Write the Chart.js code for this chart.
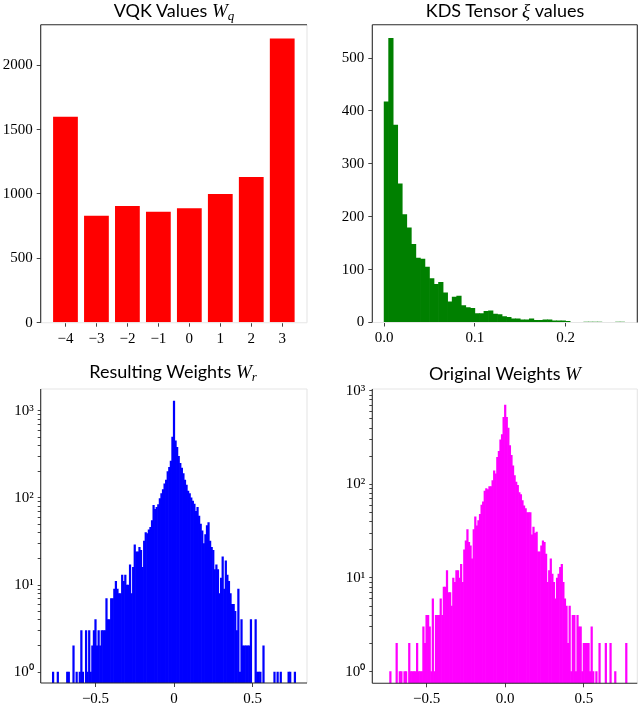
<!DOCTYPE html>
<html><head><meta charset="utf-8">
<script src="https://cdn.jsdelivr.net/npm/chart.js@4"></script>
<style>
html,body{margin:0;padding:0;background:#fff;}
#wrap{position:relative;width:640px;height:707px;overflow:hidden;background:#fff;}
#wrap canvas{position:absolute;}
.t{position:absolute;width:300px;text-align:center;font-family:Lato,"Open Sans",sans-serif;font-size:18px;color:#000;white-space:nowrap;line-height:22px;z-index:2;}
.m{font-family:"Liberation Serif",serif;font-style:italic;font-size:19px;}
.m sub{font-size:13px;vertical-align:-3px;line-height:0;}
</style></head>
<body>
<div id="wrap">
  <div class="t" style="left:24px;top:-1px;">VQK Values <span class="m">W<sub>q</sub></span></div>
  <div class="t" style="left:355px;top:-1px;">KDS Tensor <span class="m">ξ</span> values</div>
  <div class="t" style="left:23px;top:360px;">Resulting Weights <span class="m">W<sub>r</sub></span></div>
  <div class="t" style="left:355px;top:362px;">Original Weights <span class="m">W</span></div>
  <canvas id="c1" width="320" height="350" style="left:0;top:0;"></canvas>
  <canvas id="c2" width="320" height="350" style="left:320px;top:0;"></canvas>
  <canvas id="c3" width="320" height="357" style="left:0;top:350px;"></canvas>
  <canvas id="c4" width="320" height="357" style="left:320px;top:350px;"></canvas>
</div>
<script>
// ---------- data ----------
const vqkLevels = [-4, -3, -2, -1, 0, 1, 2, 3];
const vqkCounts = [1600, 830, 906, 862, 890, 999, 1131, 2207];
const vqkYTicks = [0, 500, 1000, 1500, 2000];

const kdsBinWidth = 0.005;
const kdsCounts = [417, 537, 373, 262, 204, 179, 148, 122, 120, 105,
                   83, 72, 76, 56, 39, 48, 50, 32, 28, 27,
                   17, 17, 21, 22, 16, 15, 11, 10, 7, 7,
                   5, 5, 7, 4, 4, 5, 5, 3, 3, 3,
                   2, 0, 0, 0, 1, 1, 1, 1, 0, 0,
                   0, 1, 1];
const kdsXTicks = [0, 0.1, 0.2];
const kdsYTicks = [0, 100, 200, 300, 400, 500];

const wFirstBinCenter = -0.77;
const wBinWidth = 0.01;
const resultingCounts = [
  1, 0, 0, 1, 0, 0, 0, 0, 0, 1,
  1, 0, 0, 2, 0, 1, 0, 1, 3, 1,
  0, 3, 1, 3, 1, 2, 3, 4, 2, 3,
  2, 3, 3, 3, 7, 4, 4, 7, 7, 9,
  11, 9, 8, 8, 13, 11, 13, 10, 10, 17,
  8, 16, 29, 24, 24, 27, 25, 16, 32, 40,
  39, 43, 46, 55, 82, 74, 78, 84, 98, 112,
  125, 145, 160, 200, 225, 265, 500, 1290,
  453, 380, 300, 250, 220, 190, 160, 140, 120, 112,
  100, 92, 85, 70, 78, 62, 50, 42, 30, 38,
  48, 52, 32, 27, 25, 15, 17, 15, 8, 12,
  21, 9, 19, 13, 11, 8, 6, 6, 5, 3,
  9, 1, 4, 2, 2, 2, 2, 2, 4, 0,
  0, 4, 1, 1, 1, 0, 2, 0, 0, 0,
  0, 0, 0, 1, 0, 1, 0, 1, 0, 0,
  0, 0, 1, 1, 0, 0, 1];
const originalCounts = [
  0, 0, 0, 0, 1, 0, 0, 0, 2, 0,
  1, 1, 0, 1, 1, 0, 2, 1, 1, 1,
  1, 2, 1, 1, 1, 3, 2, 4, 4, 3,
  1, 6, 1, 4, 4, 4, 6, 4, 8, 8,
  12, 7, 7, 5, 10, 9, 12, 12, 10, 14,
  9, 20, 25, 33, 24, 22, 16, 33, 45, 36,
  41, 48, 60, 65, 85, 90, 88, 95, 95, 110,
  140, 130, 195, 225, 300, 340, 520, 702,
  520, 400, 260, 205, 158, 124, 106, 98, 82, 78,
  67, 59, 55, 50, 50, 50, 29, 35, 30, 31,
  19, 19, 22, 25, 24, 18, 9, 12, 16, 11,
  9, 6, 10, 11, 13, 14, 9, 6, 5, 2,
  5, 1, 4, 4, 1, 4, 3, 3, 1, 2,
  2, 2, 2, 1, 3, 1, 0, 1, 0, 2,
  0, 0, 0, 2, 0, 0, 2, 0, 0, 1,
  0, 0, 0, 0, 0, 0, 2];
const wXTicks = [-0.5, 0, 0.5];
const logMajorTicks = [1, 10, 100, 1000];
const logMinorMultipliers = [2, 3, 4, 5, 6, 7, 8, 9];
const logLabels = {1: '10\u2070', 10: '10\u00b9', 100: '10\u00b2', 1000: '10\u00b3'};

// ---------- helpers ----------
const DARK = '#2a2a2a', LIGHT = '#e6e6e6';
const tickFont = {family: '"Liberation Serif", serif', size: 15};
const minus = v => (v < 0 ? '\u2212' : '') + Math.abs(v);

const spines = {
  id: 'spines',
  afterDatasetsDraw(chart, args, o) {
    const {ctx, chartArea: a} = chart;
    const sides = [
      ['top', a.left, a.top, a.right, a.top],
      ['bottom', a.left, a.bottom, a.right, a.bottom],
      ['right', a.right, a.top, a.right, a.bottom],
      ['left', a.left, a.top, a.left, a.bottom]
    ];
    ctx.save();
    ctx.lineWidth = 1.1;
    [LIGHT, DARK].forEach(col => {
      sides.forEach(([k, x1, y1, x2, y2]) => {
        if (o[k] !== col) return;
        ctx.strokeStyle = col;
        ctx.beginPath(); ctx.moveTo(x1, y1); ctx.lineTo(x2, y2); ctx.stroke();
      });
    });
    ctx.restore();
  }
};

function xAxis(min, max, ticks, fmt, height) {
  return {
    type: 'linear', min, max, offset: false,
    afterBuildTicks: s => { s.ticks = ticks.map(v => ({value: v})); },
    afterFit: s => { s.height = height; },
    ticks: {callback: v => fmt(v), font: tickFont, color: '#000', padding: 3, maxRotation: 0, autoSkip: false},
    grid: {display: true, offset: false, drawOnChartArea: false, drawTicks: true, tickLength: 4, color: '#444'},
    border: {display: false}
  };
}
function yLinear(min, max, ticks, width) {
  return {
    type: 'linear', min, max,
    afterBuildTicks: s => { s.ticks = ticks.map(v => ({value: v})); },
    afterFit: s => { s.width = width; },
    ticks: {callback: v => String(v), font: tickFont, color: '#000', padding: 4, autoSkip: false},
    grid: {display: true, drawOnChartArea: false, drawTicks: true, tickLength: 4, color: '#444'},
    border: {display: false}
  };
}
function yLog(min, max, width) {
  return {
    type: 'logarithmic', min, max,
    afterBuildTicks: s => {
      const t = [];
      logMajorTicks.forEach(m => {
        t.push({value: m, major: true});
        logMinorMultipliers.forEach(k => t.push({value: m * k}));
      });
      s.ticks = t.filter(x => x.value >= min && x.value <= max);
    },
    afterFit: s => { s.width = width; },
    ticks: {callback: v => logLabels[v] || '', font: tickFont, color: '#000', padding: 4, autoSkip: false, major: {enabled: false}},
    grid: {display: true, drawOnChartArea: false, drawTicks: true, tickLength: 3, color: '#444'},
    border: {display: false}
  };
}
function baseOptions(pad, scales, sp) {
  return {
    responsive: false, animation: false, events: [],
    layout: {padding: pad},
    plugins: {legend: {display: false}, tooltip: {enabled: false}, title: {display: false}, spines: sp},
    scales
  };
}
function histPoints(first, width, counts) {
  return counts.map((c, i) => ({x: first + width * i, y: c > 0 ? c : null}));
}

// ---------- chart 1: VQK values ----------
new Chart(document.getElementById('c1'), {
  type: 'bar',
  data: {datasets: [{
    data: vqkLevels.map((x, i) => ({x, y: vqkCounts[i]})),
    backgroundColor: '#ff0000', borderWidth: 0,
    barPercentage: 0.8, categoryPercentage: 1.0
  }]},
  options: baseOptions({top: 24.7, right: 13, left: 0, bottom: 0}, {
    x: xAxis(-4.8, 3.8, vqkLevels, v => minus(v), 27.3),
    y: yLinear(0, 2315, vqkYTicks, 40.7)
  }, {top: DARK, left: DARK, bottom: LIGHT, right: LIGHT}),
  plugins: [spines]
});

// ---------- chart 2: KDS tensor ----------
new Chart(document.getElementById('c2'), {
  type: 'bar',
  data: {datasets: [{
    data: histPoints(kdsBinWidth / 2, kdsBinWidth, kdsCounts),
    backgroundColor: '#008000', borderWidth: 0,
    barPercentage: 1.0, categoryPercentage: 1.0
  }]},
  options: baseOptions({top: 24.7, right: 2.7, left: 0, bottom: 0}, {
    x: xAxis(-0.013, 0.279, kdsXTicks, v => v.toFixed(1), 27.5),
    y: yLinear(0, 563, kdsYTicks, 52.3)
  }, {top: DARK, left: DARK, bottom: LIGHT, right: DARK}),
  plugins: [spines]
});

// ---------- chart 3: resulting weights ----------
new Chart(document.getElementById('c3'), {
  type: 'bar',
  data: {datasets: [{
    data: histPoints(wFirstBinCenter, wBinWidth, resultingCounts),
    backgroundColor: '#0000ff', borderWidth: 0,
    barPercentage: 1.0, categoryPercentage: 1.0
  }]},
  options: baseOptions({top: 39, right: 13, left: 0, bottom: 0}, {
    x: xAxis(-0.849, 0.847, wXTicks, v => minus(v.toFixed(1)).replace('-', ''), 24),
    y: yLog(0.75, 1780, 40.7)
  }, {top: LIGHT, left: DARK, bottom: DARK, right: LIGHT}),
  plugins: [spines]
});

// ---------- chart 4: original weights ----------
new Chart(document.getElementById('c4'), {
  type: 'bar',
  data: {datasets: [{
    data: histPoints(wFirstBinCenter, wBinWidth, originalCounts),
    backgroundColor: '#ff00ff', borderWidth: 0,
    barPercentage: 1.0, categoryPercentage: 1.0
  }]},
  options: baseOptions({top: 39, right: 2.7, left: 0, bottom: 0}, {
    x: xAxis(-0.845, 0.84, wXTicks, v => (v < 0 ? '\u2212' : '') + Math.abs(v).toFixed(1), 23.7),
    y: yLog(0.75, 1045, 52.3)
  }, {top: LIGHT, left: DARK, bottom: DARK, right: LIGHT}),
  plugins: [spines]
});
</script>
</body></html>
